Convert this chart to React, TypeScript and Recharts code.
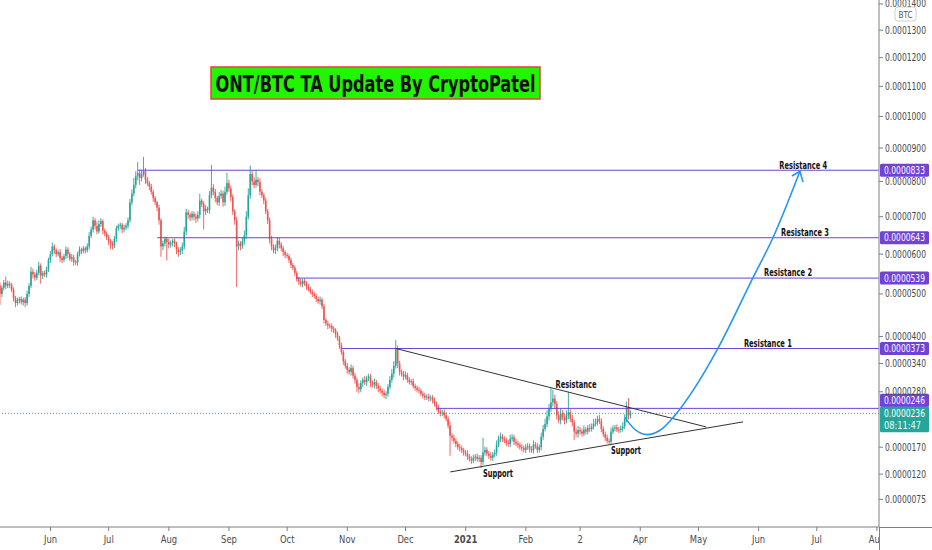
import React from 'react';
import { ComposedChart, Bar, Line, XAxis, YAxis, ReferenceLine, ReferenceDot } from 'recharts';

// Prices are in units of 1e-7 BTC (e.g. 833 -> 0.0000833). Day 0 = 2020-05-06, one candle per day.
const firstOpen = 520;
const closes = [
  500, 515, 528, 520, 525, 522, 510, 490, 478, 485,
  488, 480, 486, 478, 500, 520, 555, 548, 540, 552,
  570, 545, 552, 548, 560, 585, 600, 620, 610, 600,
  605, 590, 585, 595, 612, 600, 588, 592, 580, 578,
  600, 612, 608, 615, 610, 620, 648, 665, 690, 675,
  660, 680, 688, 662, 655, 645, 635, 628, 622, 640,
  668, 675, 678, 665, 670, 676, 690, 740, 765, 790,
  815, 825, 810, 822, 830, 805, 795, 785, 770, 752,
  740, 725, 690, 620, 628, 640, 632, 625, 630, 635,
  628, 612, 605, 610, 620, 660, 712, 705, 698, 708,
  700, 695, 705, 745, 735, 715, 722, 718, 760, 782,
  770, 752, 740, 758, 765, 740, 770, 795, 780, 755,
  715, 690, 620, 628, 622, 635, 650, 700, 760, 822,
  800, 790, 805, 798, 770, 760, 745, 715, 690, 640,
  620, 610, 615, 635, 625, 615, 605, 598, 595, 585,
  572, 565, 552, 536, 530, 524, 532, 526, 518, 512,
  505, 500, 495, 488, 482, 486, 470, 438, 430, 425,
  424, 418, 414, 405, 396, 380, 365, 345, 335, 326,
  322, 330, 314, 305, 290, 285, 298, 305, 300, 308,
  312, 298, 295, 300, 292, 287, 282, 278, 273, 276,
  290, 305, 318, 335, 372, 340, 322, 318, 312, 315,
  305, 300, 302, 292, 288, 284, 282, 276, 272, 268,
  270, 266, 268, 262, 255, 248, 240, 236, 238, 232,
  225, 212, 192, 188, 182, 176, 170, 168, 164, 160,
  158, 152, 148, 145, 150, 152, 148, 150, 142, 160,
  165, 158, 154, 150, 156, 160, 175, 186, 190, 185,
  183, 178, 176, 186, 189, 180, 177, 174, 170, 168,
  165, 170, 172, 166, 164, 175, 172, 165, 170, 190,
  205, 215, 230, 245, 258, 266, 255, 232, 222, 236,
  228, 222, 232, 238, 225, 218, 200, 196, 203, 200,
  196, 204, 200, 207, 205, 210, 215, 218, 225, 220,
  205, 195, 188, 182, 180, 200, 206, 208, 204, 203,
  206, 210, 224, 248, 232, 236,
];
const upperWicks = [
  8, 6, 6, 15, 8, 6, 5, 6, 5, 6,
  5, 6, 5, 6, 8, 6, 12, 8, 6, 8,
  10, 6, 5, 6, 8, 6, 8, 10, 6, 5,
  6, 8, 5, 6, 8, 6, 5, 8, 6, 5,
  6, 8, 5, 6, 5, 8, 10, 8, 10, 6,
  12, 10, 8, 5, 6, 5, 6, 5, 6, 8,
  8, 6, 6, 5, 8, 6, 8, 10, 12, 20,
  15, 33, 10, 12, 43, 10, 8, 6, 8, 6,
  6, 5, 8, 6, 8, 6, 5, 8, 6, 5,
  6, 5, 6, 8, 10, 12, 10, 8, 6, 8,
  6, 8, 10, 20, 6, 8, 10, 6, 12, 67,
  10, 8, 6, 12, 10, 8, 15, 30, 10, 8,
  8, 6, 10, 8, 6, 10, 12, 15, 20, 25,
  10, 12, 29, 8, 10, 8, 6, 8, 6, 8,
  8, 6, 10, 10, 8, 6, 6, 5, 6, 5,
  6, 5, 6, 5, 6, 8, 5, 6, 5, 6,
  5, 6, 5, 6, 5, 8, 5, 6, 5, 6,
  5, 6, 5, 5, 6, 5, 6, 5, 5, 6,
  6, 8, 5, 6, 5, 8, 6, 5, 8, 6,
  6, 5, 6, 8, 5, 6, 5, 5, 6, 5,
  6, 8, 10, 10, 20, 8, 6, 5, 6, 8,
  5, 6, 5, 6, 5, 5, 6, 5, 5, 6,
  5, 6, 5, 5, 6, 5, 5, 6, 5, 6,
  6, 5, 8, 5, 6, 5, 5, 6, 5, 5,
  5, 6, 5, 5, 6, 5, 6, 5, 5, 28,
  6, 5, 5, 6, 5, 6, 8, 6, 8, 5,
  6, 5, 6, 8, 6, 5, 6, 5, 5, 6,
  5, 6, 6, 5, 6, 8, 5, 6, 5, 8,
  8, 10, 12, 10, 30, 18, 8, 6, 8, 10,
  6, 8, 10, 42, 6, 8, 5, 6, 8, 6,
  6, 8, 5, 6, 8, 6, 10, 8, 6, 8,
  6, 5, 5, 6, 5, 8, 6, 5, 6, 5,
  6, 8, 10, 12, 19, 6,
];
const lowerWicks = [
  27, 8, 6, 8, 6, 8, 6, 8, 10, 6,
  8, 6, 8, 10, 6, 8, 6, 10, 8, 6,
  6, 20, 8, 6, 8, 6, 8, 6, 10, 8,
  6, 10, 8, 6, 8, 10, 6, 8, 10, 6,
  8, 6, 8, 6, 8, 6, 8, 6, 8, 10,
  8, 6, 8, 10, 8, 8, 12, 15, 10, 6,
  8, 6, 8, 10, 8, 6, 8, 6, 8, 8,
  10, 12, 20, 10, 8, 12, 8, 10, 8, 10,
  8, 10, 12, 27, 10, 8, 48, 10, 8, 10,
  10, 12, 12, 8, 10, 8, 10, 12, 10, 8,
  10, 12, 8, 10, 8, 50, 10, 8, 10, 8,
  10, 12, 8, 10, 8, 12, 10, 8, 10, 12,
  10, 12, 103, 10, 12, 8, 10, 10, 8, 10,
  12, 10, 8, 12, 10, 8, 10, 8, 10, 12,
  10, 8, 10, 8, 10, 8, 10, 8, 6, 8,
  8, 6, 8, 6, 8, 6, 8, 6, 8, 6,
  6, 8, 6, 8, 6, 8, 6, 8, 6, 8,
  6, 8, 6, 8, 6, 8, 6, 8, 6, 8,
  6, 8, 6, 8, 10, 8, 6, 8, 6, 8,
  6, 8, 6, 8, 6, 8, 6, 8, 6, 8,
  6, 5, 6, 8, 6, 10, 8, 6, 8, 6,
  6, 5, 6, 5, 6, 5, 6, 5, 6, 5,
  5, 6, 5, 6, 5, 6, 5, 6, 5, 6,
  5, 6, 38, 6, 5, 6, 5, 6, 5, 6,
  5, 6, 5, 6, 5, 6, 5, 6, 11, 5,
  6, 5, 6, 5, 6, 5, 6, 5, 6, 5,
  5, 6, 5, 6, 5, 6, 5, 6, 5, 6,
  5, 6, 5, 6, 5, 6, 5, 6, 5, 6,
  6, 5, 6, 8, 6, 8, 10, 8, 6, 8,
  6, 8, 6, 8, 6, 8, 16, 6, 8, 6,
  6, 5, 6, 5, 6, 5, 6, 5, 6, 5,
  6, 5, 6, 5, 5, 6, 5, 6, 5, 6,
  5, 6, 5, 6, 8, 6,
];

const monthTickDays = [26, 56, 87, 118, 148, 179, 209, 240, 271, 299, 330, 360, 391, 421, 452];
const monthTickLabels = ['Jun', 'Jul', 'Aug', 'Sep', 'Oct', 'Nov', 'Dec', '2021', 'Feb', '2', 'Apr', 'May', 'Jun', 'Jul', 'Aug'];
const priceTickValues = [75, 120, 170, 280, 340, 400, 500, 600, 700, 800, 900, 1000, 1100, 1200, 1300, 1400];

const levelValues = [833, 643, 539, 373, 246];
const levelStartDays = [71, 81, 153, 176, 225];
const levelTagShift = [0, 0, 0, 0, -8];
const lastPrice = 236;
const lastTime = '08:11:47';

const resistanceTrend = [{ day: 204, v: 373 }, { day: 364, v: 209 }];
const supportTrend = [{ day: 232, v: 124 }, { day: 383, v: 219 }];
const projectionPath = [
  { day: 322, v: 228 }, { day: 327, v: 205 }, { day: 333.5, v: 194 }, { day: 340, v: 202 },
  { day: 347, v: 228 }, { day: 357.4, v: 284 }, { day: 369.6, v: 370 }, { day: 388, v: 539 },
  { day: 398.4, v: 643 }, { day: 412.3, v: 830 },
];
const arrowHead = [{ day: 408.2, v: 816 }, { day: 412.3, v: 830 }, { day: 413.9, v: 798 }];

const annotationTexts = ['Resistance 4', 'Resistance 3', 'Resistance 2', 'Resistance 1', 'Resistance', 'Support', 'Support'];
const annotationDays = [414, 414.9, 406.2, 395.8, 296.9, 256.7, 322.6];
const annotationValues = [849, 659, 554, 385, 297, 122, 165];
const annotationWidths = [48, 48, 48, 48, 41, 30, 30];

const titleText = 'ONT/BTC TA Update By CryptoPatel';

// ---- transform: the reference price axis is a compressed (log-offset) scale
const tf = (v: number) => Math.log(v / 10 + 100);
const T_MIN = 4.63281;
const T_MAX = 5.48708;
const fmtPrice = (v: number) => (v * 1e-7).toFixed(7);

const rows = closes.map((c, i) => {
  const o = i === 0 ? firstOpen : closes[i - 1];
  const h = Math.max(o, c) + upperWicks[i];
  const l = Math.min(o, c) - lowerWicks[i];
  return { day: i, o, h, l, c, range: [tf(l), tf(h)] };
});

const toRows = (pts: { day: number; v: number }[]) => pts.map((p) => ({ day: p.day, t: tf(p.v) }));

const FONT = "'Liberation Sans Narrow', 'Arial Narrow', 'DejaVu Sans Condensed', Roboto, sans-serif";
const UP = '#26a69a';
const DOWN = '#ef5350';
const LEVEL = '#6f42d9';
const AXIS = '#7f7f7f';
const TICK_TEXT = '#4a4a4a';

const Candle = (props: any) => {
  const { x, y, width, height, payload } = props;
  if (payload == null || x == null) return null;
  const top = Math.min(y, y + height);
  const bot = Math.max(y, y + height);
  const th = tf(payload.h);
  const tl = tf(payload.l);
  const py = (v: number) => (th === tl ? top : top + ((th - tf(v)) / (th - tl)) * (bot - top));
  const cx = x + width / 2;
  const up = payload.c >= payload.o;
  const color = up ? UP : DOWN;
  const yo = py(payload.o);
  const yc = py(payload.c);
  const bt = Math.min(yo, yc);
  const bh = Math.max(Math.abs(yo - yc), 1);
  return (
    <g>
      <line x1={cx} x2={cx} y1={top} y2={bot} stroke={color} strokeWidth={0.9} />
      <rect x={cx - 0.8} y={bt} width={1.6} height={bh} fill={color} />
    </g>
  );
};

const labelForT = (t: number) => {
  let best = 0;
  priceTickValues.forEach((v, i) => {
    if (Math.abs(tf(v) - t) < Math.abs(tf(priceTickValues[best]) - t)) best = i;
  });
  return fmtPrice(priceTickValues[best]);
};

const YTick = (p: any) => (
  <text
    x={p.x}
    y={p.y}
    dominantBaseline="central"
    fontSize={11}
    fill={TICK_TEXT}
    fontFamily={FONT}
    textLength={41}
    lengthAdjust="spacingAndGlyphs"
  >
    {labelForT(p.payload.value)}
  </text>
);

const XTick = (p: any) => {
  const idx = monthTickDays.indexOf(p.payload.value);
  const label = monthTickLabels[idx] ?? '';
  return (
    <text
      x={p.x}
      y={p.y + 5}
      textAnchor="middle"
      dominantBaseline="central"
      fontSize={11}
      fill={TICK_TEXT}
      fontFamily={FONT}
      fontWeight={label === '2021' ? 600 : 400}
      transform={`translate(${p.x} 0) scale(0.85 1) translate(${-p.x} 0)`}
    >
      {label}
    </text>
  );
};

const priceTag = (text: string, fill: string, shift: number) => (p: any) => {
  const vb = p.viewBox || {};
  const x = (vb.x || 0) + (vb.width || 0);
  const y = (vb.y || 0) + shift;
  return (
    <g>
      <rect x={x + 1} y={y - 6.5} width={49} height={13} rx={1.5} fill={fill} />
      <text
        x={x + 5}
        y={y}
        dominantBaseline="central"
        fill="#fff"
        fontSize={11}
        fontFamily={FONT}
        textLength={41}
        lengthAdjust="spacingAndGlyphs"
      >
        {text}
      </text>
    </g>
  );
};

const lastTag = (p: any) => {
  const vb = p.viewBox || {};
  const x = (vb.x || 0) + (vb.width || 0);
  const y = vb.y || 0;
  return (
    <g>
      <rect x={x + 1} y={y - 7} width={49} height={26} rx={1.5} fill={UP} />
      <text
        x={x + 5}
        y={y + 0.5}
        dominantBaseline="central"
        fill="#fff"
        fontSize={11}
        fontFamily={FONT}
        textLength={41}
        lengthAdjust="spacingAndGlyphs"
      >
        {fmtPrice(lastPrice)}
      </text>
      <text
        x={x + 5}
        y={y + 12.5}
        dominantBaseline="central"
        fill="#e8fffb"
        fontSize={11}
        fontFamily={FONT}
        textLength={37}
        lengthAdjust="spacingAndGlyphs"
      >
        {lastTime}
      </text>
    </g>
  );
};

const textShape = (label: string, width: number) => (p: any) => (
  <text
    x={p.cx}
    y={p.cy}
    textAnchor="middle"
    dominantBaseline="central"
    fontSize={10.5}
    fontWeight={600}
    fill="#111"
    fontFamily={FONT}
    textLength={width}
    lengthAdjust="spacingAndGlyphs"
  >
    {label}
  </text>
);

export default function App() {
  return (
    <div style={{ position: 'relative', width: 932, height: 550, background: '#fff', overflow: 'hidden' }}>
      <style>{'html,body{margin:0;padding:0;background:#fff}'}</style>
      <ComposedChart width={932} height={550} data={rows} margin={{ top: 0, right: 0, bottom: 0, left: 0 }}>
        <XAxis
          dataKey="day"
          type="number"
          domain={[-0.03, 453.06]}
          allowDataOverflow
          ticks={monthTickDays}
          interval={0}
          height={23}
          tickSize={4}
          tickMargin={3}
          axisLine={{ stroke: AXIS }}
          tickLine={{ stroke: AXIS }}
          tick={XTick}
        />
        <YAxis
          orientation="right"
          type="number"
          width={53}
          domain={[T_MIN, T_MAX]}
          allowDataOverflow
          ticks={priceTickValues.map(tf)}
          interval={0}
          tickSize={4}
          tickMargin={2}
          axisLine={{ stroke: AXIS }}
          tickLine={{ stroke: AXIS }}
          tick={YTick}
        />

        <ReferenceLine y={tf(lastPrice)} stroke={UP} strokeDasharray="1 2" strokeWidth={1} label={lastTag} />

        {levelValues.map((v, i) => (
          <ReferenceLine
            key={'lv' + i}
            segment={[{ x: levelStartDays[i], y: tf(v) }, { x: 453, y: tf(v) }]}
            stroke={LEVEL}
            strokeWidth={1}
          />
        ))}
        {levelValues.map((v, i) => (
          <ReferenceLine
            key={'lt' + i}
            y={tf(v)}
            stroke="none"
            strokeOpacity={0}
            label={priceTag(fmtPrice(v), LEVEL, levelTagShift[i])}
          />
        ))}

        <ReferenceLine
          segment={resistanceTrend.map((p) => ({ x: p.day, y: tf(p.v) }))}
          stroke="#333"
          strokeWidth={1}
        />
        <ReferenceLine
          segment={supportTrend.map((p) => ({ x: p.day, y: tf(p.v) }))}
          stroke="#333"
          strokeWidth={1}
        />

        <Bar dataKey="range" barSize={2} shape={Candle} isAnimationActive={false} />

        <Line
          data={toRows(projectionPath)}
          dataKey="t"
          type="monotone"
          stroke="#2196f3"
          strokeWidth={1.6}
          dot={false}
          activeDot={false}
          isAnimationActive={false}
        />
        <Line
          data={toRows(arrowHead)}
          dataKey="t"
          type="linear"
          stroke="#2196f3"
          strokeWidth={1.6}
          dot={false}
          activeDot={false}
          isAnimationActive={false}
        />

        {annotationTexts.map((s, i) => (
          <ReferenceDot
            key={'an' + i}
            x={annotationDays[i]}
            y={tf(annotationValues[i])}
            r={0}
            shape={textShape(s, annotationWidths[i])}
          />
        ))}
      </ComposedChart>

      <svg width={932} height={550} style={{ position: 'absolute', left: 0, top: 0, pointerEvents: 'none' }}>
        <rect x={211} y={67} width={329} height={32} fill="#22f500" stroke="#e0443a" strokeWidth={1.5} />
        <text
          x={375.5}
          y={84}
          textAnchor="middle"
          dominantBaseline="central"
          fontSize={23}
          fontWeight={600}
          fill="#111"
          fontFamily={FONT}
          textLength={320}
          lengthAdjust="spacingAndGlyphs"
        >
          {titleText}
        </text>
        <rect x={880} y={528} width={52} height={22} fill="#fff" />
        <line x1={879.5} x2={879.5} y1={527} y2={550} stroke={AXIS} />
        <line x1={879} x2={932} y1={527.5} y2={527.5} stroke={AXIS} />
        <rect x={895} y={7} width={21} height={14} rx={3} fill="#fff" stroke="#cfcfcf" />
        <text
          x={905.5}
          y={14.5}
          textAnchor="middle"
          dominantBaseline="central"
          fontSize={9.5}
          fill="#555"
          fontFamily={FONT}
          textLength={14}
          lengthAdjust="spacingAndGlyphs"
        >
          BTC
        </text>
      </svg>
    </div>
  );
}
